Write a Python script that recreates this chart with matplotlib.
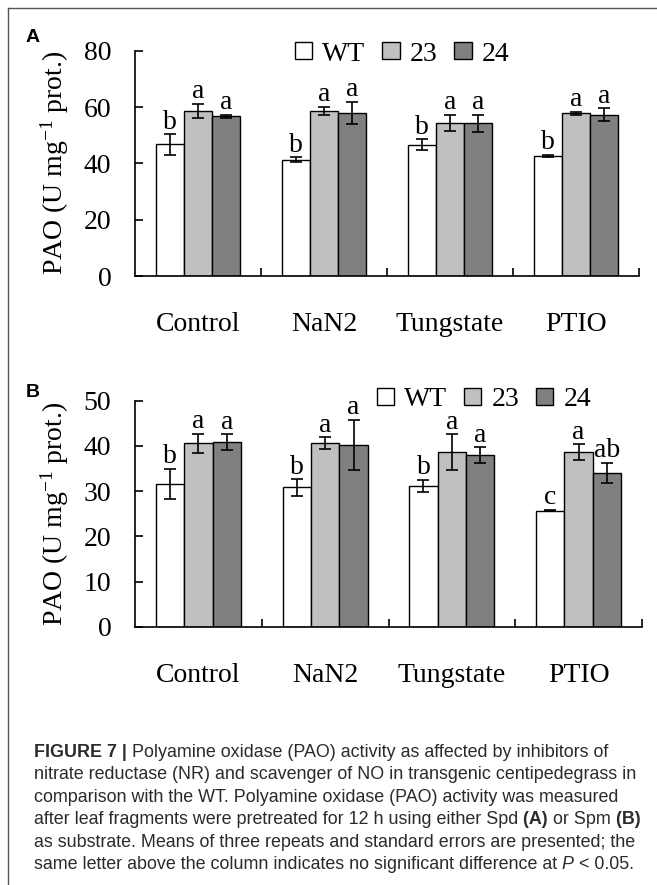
"""
PAO activity bar charts (Figure 7, panels A and B) with caption
"""

import matplotlib

matplotlib.use("Agg")
import matplotlib.pyplot as plt
import numpy as np
from matplotlib.lines import Line2D

plt.rcParams["font.family"] = ["Liberation Serif", "DejaVu Serif"]
plt.rcParams["mathtext.fontset"] = "custom"
plt.rcParams["mathtext.rm"] = "Liberation Serif"
plt.rcParams["mathtext.it"] = "Liberation Serif:italic"

W, H = 657, 885
FS = 20  # chart text size
CAP_FS = 12.9  # caption text size
CAP_COLOR = "#2b2b2b"

# データ
categories = ["Control", "NaN2", "Tungstate", "PTIO"]
genotypes = ["WT", "23", "24"]
bar_colors = ["white", "#c0c0c0", "#808080"]

# Panel A (Spd as substrate)
a_wt = [46.7, 41.3, 46.6, 42.7]
a_wt_err = [3.6, 0.8, 2.0, 0.3]
a_23 = [58.6, 58.6, 54.4, 57.8]
a_23_err = [2.6, 1.4, 2.8, 0.5]
a_24 = [56.7, 57.9, 54.2, 57.2]
a_24_err = [0.5, 4.0, 3.0, 2.3]
a_wt_letters = ["b", "b", "b", "b"]
a_23_letters = ["a", "a", "a", "a"]
a_24_letters = ["a", "a", "a", "a"]

# Panel B (Spm as substrate)
b_wt = [31.6, 30.8, 31.2, 25.7]
b_wt_err = [3.4, 1.8, 1.3, 0.2]
b_23 = [40.6, 40.6, 38.6, 38.6]
b_23_err = [2.1, 1.3, 4.0, 1.8]
b_24 = [40.9, 40.2, 38.0, 34.0]
b_24_err = [1.7, 5.6, 1.7, 2.3]
b_wt_letters = ["b", "b", "b", "c"]
b_23_letters = ["a", "a", "a", "a"]
b_24_letters = ["a", "a", "a", "ab"]


def draw_panel(ax, values, errors, letters, ymax, ystep, legend_xy):
    x = np.arange(len(categories))
    width = 0.224
    offsets = [-width, 0, width]
    handles = []
    for vals, errs, lets, off, color in zip(values, errors, letters, offsets, bar_colors):
        bc = ax.bar(
            x + off,
            vals,
            width,
            color=color,
            edgecolor="black",
            linewidth=1.0,
            yerr=errs,
            error_kw=dict(ecolor="black", elinewidth=1.2, capsize=4, capthick=1.2),
        )
        handles.append(bc)
        for xi, v, e, let in zip(x + off, vals, errs, lets):
            ax.annotate(
                let,
                (xi, v + e),
                xytext=(0, 4),
                textcoords="offset points",
                ha="center",
                va="baseline",
                fontsize=FS,
            )

    ax.set_xlim(-0.5, len(categories) - 0.5)
    ax.set_ylim(0, ymax)
    ax.set_yticks(np.arange(0, ymax + 1, ystep))
    ax.tick_params(axis="y", direction="in", length=6, width=1.2, pad=17, labelsize=FS)

    # 区切りの目盛り(上向き)とカテゴリ名
    ax.set_xticks(x + 0.5)
    ax.set_xticklabels([])
    ax.tick_params(axis="x", which="major", direction="in", length=6, width=1.2)
    ax.set_xticks(x, categories, minor=True)
    ax.tick_params(axis="x", which="minor", length=0, pad=26, labelsize=FS)

    for side in ["top", "right"]:
        ax.spines[side].set_visible(False)
    for side in ["left", "bottom"]:
        ax.spines[side].set_linewidth(1.2)

    ax.set_ylabel(r"PAO (U mg$^{\mathregular{-1}}$ prot.)", fontsize=FS)
    ax.yaxis.set_label_coords(-0.127, 0.5)

    ax.legend(
        handles,
        genotypes,
        ncol=3,
        loc="center",
        bbox_to_anchor=legend_xy,
        frameon=False,
        fontsize=FS,
        handlelength=0.63,
        handleheight=0.58,
        handletextpad=0.36,
        columnspacing=0.6,
        borderpad=0,
        borderaxespad=0,
    )


fig = plt.figure(figsize=(W / 100, H / 100), dpi=100)

ax_a = fig.add_axes([135 / W, 1 - 276 / H, 504 / W, 225.3 / H])
draw_panel(
    ax_a,
    [a_wt, a_23, a_24],
    [a_wt_err, a_23_err, a_24_err],
    [a_wt_letters, a_23_letters, a_24_letters],
    80,
    20,
    (0.53, 0.985),
)

ax_b = fig.add_axes([135 / W, 1 - 626.7 / H, 507 / W, 226 / H])
draw_panel(
    ax_b,
    [b_wt, b_23, b_24],
    [b_wt_err, b_23_err, b_24_err],
    [b_wt_letters, b_23_letters, b_24_letters],
    50,
    10,
    (0.688, 1.005),
)

# パネルラベル
fig.text(26 / W, 1 - 42.3 / H, "A", fontsize=14, fontweight="bold",
         family="Liberation Sans", va="baseline")
fig.text(26 / W, 1 - 397 / H, "B", fontsize=14, fontweight="bold",
         family="Liberation Sans", va="baseline")

# 枠線(上と左)
fig.add_artist(Line2D([8 / W, 1], [1 - 8 / H, 1 - 8 / H], transform=fig.transFigure,
                      color="#555555", lw=1.0))
fig.add_artist(Line2D([8 / W, 8 / W], [0, 1 - 8 / H], transform=fig.transFigure,
                      color="#555555", lw=1.0))

# キャプション
caption = [
    [("FIGURE 7 |", "b"), (" Polyamine oxidase (PAO) activity as affected by inhibitors of", "n")],
    [("nitrate reductase (NR) and scavenger of NO in transgenic centipedegrass in", "n")],
    [("comparison with the WT. Polyamine oxidase (PAO) activity was measured", "n")],
    [("after leaf fragments were pretreated for 12 h using either Spd", "n"), (" (A)", "b"),
     (" or Spm", "n"), (" (B)", "b")],
    [("as substrate. Means of three repeats and standard errors are presented; the", "n")],
    [("same letter above the column indicates no significant difference at", "n"), (" P", "i"),
     (" < 0.05.", "n")],
]
caption_baselines = [756.7, 779.2, 801.7, 824.2, 846.7, 869.2]

renderer = fig.canvas.get_renderer()
for y_px, pieces in zip(caption_baselines, caption):
    x_px = 34
    for s, style in pieces:
        t = fig.text(
            x_px / W,
            1 - y_px / H,
            s,
            fontsize=CAP_FS,
            family="Liberation Sans",
            color=CAP_COLOR,
            fontweight="bold" if style == "b" else "normal",
            fontstyle="italic" if style == "i" else "normal",
            ha="left",
            va="baseline",
        )
        x_px = t.get_window_extent(renderer).x1

fig.savefig("out.png", dpi=100)
plt.close(fig)
